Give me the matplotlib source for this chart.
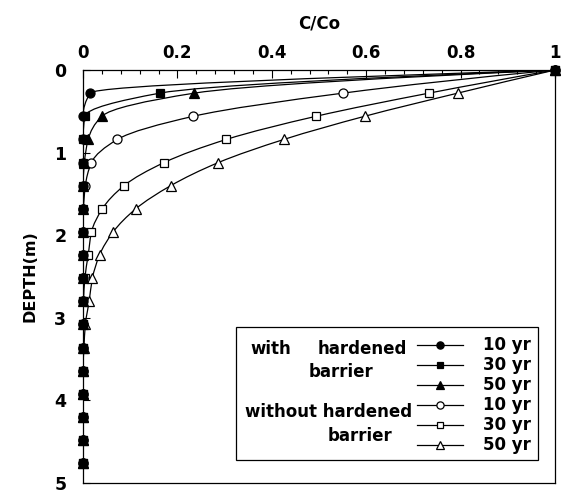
import matplotlib
matplotlib.use("Agg")
import matplotlib.pyplot as plt
import numpy as np
from matplotlib.lines import Line2D
from matplotlib.patches import PathPatch, Rectangle
from matplotlib.path import Path
from matplotlib.ticker import MultipleLocator

plt.rcParams["font.family"] = ["DejaVu Sans"]
plt.rcParams["font.weight"] = "bold"

# depth of each sampling point (m)
depth = [0.0, 0.28, 0.56, 0.84, 1.12, 1.40, 1.68, 1.96, 2.24,
         2.52, 2.80, 3.08, 3.36, 3.64, 3.92, 4.20, 4.48, 4.76]

# C/Co, with hardened barrier
hard_10 = [1.0, 0.015, 0.0, 0.0, 0.0, 0.0, 0.0, 0.0, 0.0,
           0.0, 0.0, 0.0, 0.0, 0.0, 0.0, 0.0, 0.0, 0.0]
hard_30 = [1.0, 0.163, 0.004, 0.0, 0.0, 0.0, 0.0, 0.0, 0.0,
           0.0, 0.0, 0.0, 0.0, 0.0, 0.0, 0.0, 0.0, 0.0]
hard_50 = [1.0, 0.236, 0.040, 0.011, 0.003, 0.0, 0.0, 0.0, 0.0,
           0.0, 0.0, 0.0, 0.0, 0.0, 0.0, 0.0, 0.0, 0.0]

# C/Co, without hardened barrier
open_10 = [1.0, 0.551, 0.234, 0.073, 0.018, 0.005, 0.001, 0.0, 0.0,
           0.0, 0.0, 0.0, 0.0, 0.0, 0.0, 0.0, 0.0, 0.0]
open_30 = [1.0, 0.733, 0.494, 0.304, 0.172, 0.087, 0.041, 0.018, 0.011,
           0.004, 0.001, 0.0, 0.0, 0.0, 0.0, 0.0, 0.0, 0.0]
open_50 = [1.0, 0.794, 0.597, 0.426, 0.287, 0.186, 0.112, 0.064, 0.035,
           0.020, 0.013, 0.005, 0.002, 0.0, 0.0, 0.0, 0.0, 0.0]

year_labels = ["10 yr", "30 yr", "50 yr", "10 yr", "30 yr", "50 yr"]
x_ticks = [0, 0.2, 0.4, 0.6, 0.8, 1.0]
x_tick_labels = ["0", "0.2", "0.4", "0.6", "0.8", "1"]
y_ticks = [0, 1, 2, 3, 4, 5]


def pchip_slopes(d, c):
    """Shape-preserving slopes dc/dd (so the curve never overshoots)."""
    h = np.diff(d)
    s = np.diff(c) / h
    m = np.zeros_like(c)
    for k in range(1, len(c) - 1):
        if s[k - 1] * s[k] > 0:
            w1 = 2 * h[k] + h[k - 1]
            w2 = h[k] + 2 * h[k - 1]
            m[k] = (w1 + w2) / (w1 / s[k - 1] + w2 / s[k])
    for end, (h0, h1, s0, s1) in ((0, (h[0], h[1], s[0], s[1])),
                                   (-1, (h[-1], h[-2], s[-1], s[-2]))):
        v = ((2 * h0 + h1) * s0 - h0 * s1) / (h0 + h1)
        if np.sign(v) != np.sign(s0):
            v = 0.0
        elif np.sign(s0) != np.sign(s1) and abs(v) > 3 * abs(s0):
            v = 3 * s0
        m[end] = v
    return m


def smooth_curve(ax, c, d, lw=0.9):
    c = np.asarray(c, float)
    d = np.asarray(d, float)
    m = pchip_slopes(d, c)
    verts = [(c[0], d[0])]
    codes = [Path.MOVETO]
    for i in range(len(d) - 1):
        h = (d[i + 1] - d[i]) / 3
        verts += [(c[i] + m[i] * h, d[i] + h),
                  (c[i + 1] - m[i + 1] * h, d[i + 1] - h),
                  (c[i + 1], d[i + 1])]
        codes += [Path.CURVE4] * 3
    ax.add_patch(PathPatch(Path(verts, codes), fill=False,
                           edgecolor="black", linewidth=lw, zorder=2))


fig = plt.figure(figsize=(5.64, 4.95), dpi=100)
ax = fig.add_axes([83 / 564, 12 / 495, 472 / 564, 413 / 495])

series = [
    (hard_10, dict(marker="o", mfc="black", ms=6.5)),
    (hard_30, dict(marker="s", mfc="black", ms=6.0)),
    (hard_50, dict(marker="^", mfc="black", ms=6.5)),
    (open_10, dict(marker="o", mfc="white", ms=6.5)),
    (open_30, dict(marker="s", mfc="white", ms=6.0)),
    (open_50, dict(marker="^", mfc="white", ms=6.5)),
]

# open series first so the filled markers sit on top
for vals, st in series[3:] + series[:3]:
    smooth_curve(ax, vals, depth)
    ax.plot(vals, depth, linestyle="none", mec="black", mew=0.9,
            clip_on=False, zorder=4 if st["mfc"] == "black" else 3, **st)

ax.set_xlim(0, 1)
ax.set_ylim(5, 0)
ax.xaxis.tick_top()
ax.xaxis.set_label_position("top")
ax.set_xticks(x_ticks)
ax.set_xticklabels(x_tick_labels)
ax.set_yticks(y_ticks)
ax.xaxis.set_minor_locator(MultipleLocator(0.04))
ax.tick_params(axis="x", which="major", direction="in", length=6, width=0.8,
               pad=6, labelsize=12)
ax.tick_params(axis="x", which="minor", direction="in", length=3, width=0.8)
ax.tick_params(axis="y", which="major", direction="in", length=5, width=0.8,
               pad=12, labelsize=12.5)
for sp in ax.spines.values():
    sp.set_linewidth(0.9)

ax.set_xlabel("C/Co", fontsize=12, fontweight="bold", labelpad=11)
ax.set_ylabel("DEPTH(m)", fontsize=11.5, fontweight="bold", labelpad=12)

# legend box with the two group captions on its left side
ax.add_patch(Rectangle((0.324, 0.056), 0.64, 0.322, transform=ax.transAxes,
                       fill=False, edgecolor="black", linewidth=0.9,
                       zorder=5))
handles = [Line2D([], [], color="black", linewidth=0.9, mec="black",
                  mew=0.9, **st) for _, st in series]
for h in handles:
    h.set_markersize(h.get_markersize() * 0.8)
ax.legend(handles, year_labels, loc="upper left",
          bbox_to_anchor=(0.70, 0.363), frameon=False,
          prop=dict(size=12, weight="bold"), handlelength=2.75,
          handletextpad=1.2, labelspacing=0.12, borderpad=0.2,
          borderaxespad=0.0)

cap = dict(transform=ax.transAxes, fontsize=12, fontweight="bold",
           va="center", zorder=6)
ax.text(0.354, 0.324, "with", ha="left", **cap)
ax.text(0.591, 0.324, "hardened", ha="center", **cap)
ax.text(0.547, 0.269, "barrier", ha="center", **cap)
ax.text(0.521, 0.172, "without hardened", ha="center", **cap)
ax.text(0.587, 0.114, "barrier", ha="center", **cap)

fig.savefig("out.png", dpi=100, facecolor="white")
